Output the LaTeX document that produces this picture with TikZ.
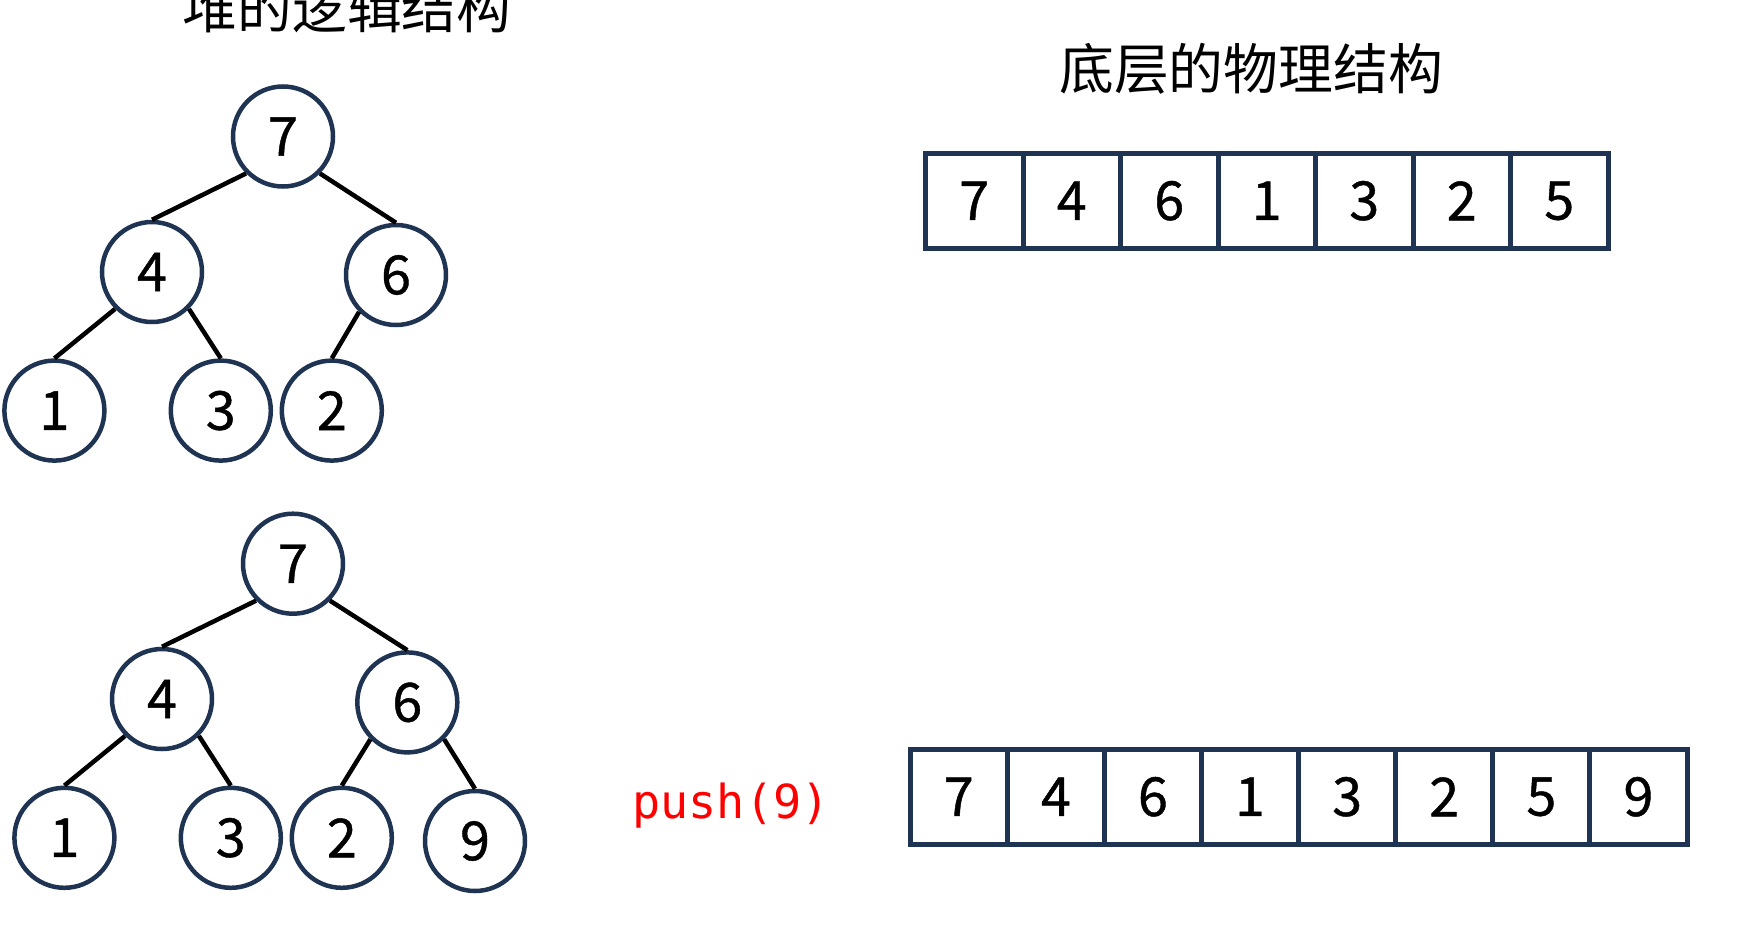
\documentclass[tikz,border=0pt]{standalone}
\usepackage{fontspec}
\newfontfamily\cjk{Noto Sans CJK SC}
\newfontfamily\cjkd[FakeBold=0.8]{Noto Sans CJK SC}
\newfontfamily\monof{DejaVu Sans Mono}
\definecolor{navy}{HTML}{1F3352}
\begin{document}
\begin{tikzpicture}[x=1bp,y=-1bp,
  hn/.style={circle,draw=navy,line width=4.5bp,minimum size=100bp,inner sep=0pt,
    font=\cjkd\fontsize{54}{54}\selectfont},
  edge/.style={line width=4.5bp,black},
  cell/.style={rectangle,draw=navy,line width=5bp,minimum height=95.5bp,inner sep=0pt,
    font=\cjkd\fontsize{54}{54}\selectfont},
  cellA/.style={cell,minimum width=97.5bp},
  cellB/.style={cell,minimum width=97.1bp},
  title/.style={font=\cjk\fontsize{55}{55}\selectfont,anchor=base},
  pushlbl/.style={font=\monof\fontsize{47}{47}\selectfont,text=red,anchor=base}]
\useasboundingbox (0,0) rectangle (1740,946);
\clip (0,0) rectangle (1740,946);

% titles
\node[title] (t1) at (347,28.7) {堆的逻辑结构};
\node[title] (t2) at (1251,89.4) {底层的物理结构};

% tree 1
\node[hn] (a7) at (283,136.5) {7};
\node[hn] (a4) at (152,272) {4};
\node[hn] (a6) at (396,275) {6};
\node[hn] (a1) at (54.4,410.6) {1};
\node[hn] (a3) at (220.8,410.6) {3};
\node[hn] (a2) at (331.8,410.6) {2};
\draw[edge] (a7.south west) -- (a4.north);
\draw[edge] (a7.south east) -- (a6.north);
\draw[edge] (a4.south west) -- (a1.north);
\draw[edge] (a4.south east) -- (a3.north);
\draw[edge] (a6.south west) -- (a2.north);

% tree 2
\node[hn] (b7) at (293,563.7) {7};
\node[hn] (b4) at (162,699) {4};
\node[hn] (b6) at (407.3,702.4) {6};
\node[hn] (b1) at (64.4,837.8) {1};
\node[hn] (b3) at (230.8,837.8) {3};
\node[hn] (b2) at (341.8,837.8) {2};
\node[hn] (b9) at (475,841) {9};
\draw[edge] (b7.south west) -- (b4.north);
\draw[edge] (b7.south east) -- (b6.north);
\draw[edge] (b4.south west) -- (b1.north);
\draw[edge] (b4.south east) -- (b3.north);
\draw[edge] (b6.south west) -- (b2.north);
\draw[edge] (b6.south east) -- (b9.north);

% array 1
\foreach \v [count=\i from 0] in {7,4,6,1,3,2,5}
  \node[cellA] (c\i) at ({974.25+97.5*\i},200.8) {\v};

% push label
\node[pushlbl] (push) at (731,818) {push(9)};

% array 2
\foreach \v [count=\i from 0] in {7,4,6,1,3,2,5,9}
  \node[cellB] (d\i) at ({958.75+97.1*\i},796.8) {\v};
\end{tikzpicture}
\end{document}
